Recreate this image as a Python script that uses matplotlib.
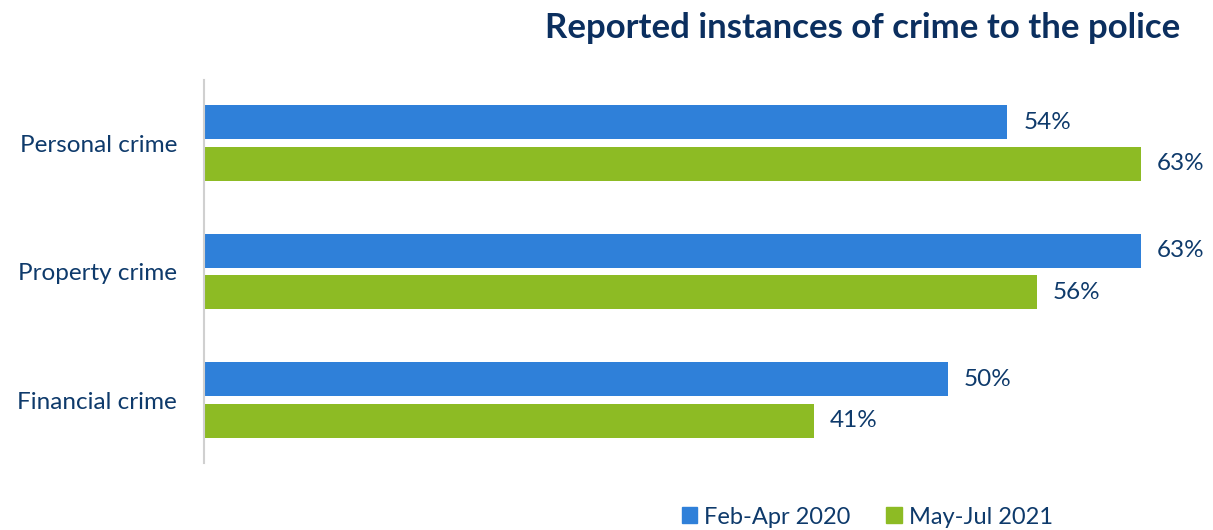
import numpy as np
import matplotlib
matplotlib.use("Agg")
import matplotlib.pyplot as plt
from matplotlib.patches import Patch

categories = ["Personal crime", "Property crime", "Financial crime"]
series_names = ["Feb-Apr 2020", "May-Jul 2021"]
feb_apr_2020 = [54, 63, 50]
may_jul_2021 = [63, 56, 41]

BLUE = "#2F80D9"
GREEN = "#8DBB24"
NAVY = "#0E3A6B"
TITLE = "#0B2F5F"

plt.rcParams["font.family"] = ["Lato", "DejaVu Sans"]

fig = plt.figure(figsize=(12.13, 5.30), dpi=100)
ax = fig.add_axes([0.1682, 0.1264, 0.813, 0.7226])

y = np.arange(len(categories))
h = 0.265
off = 0.161
b1 = ax.barh(y - off, feb_apr_2020, height=h, color=BLUE)
b2 = ax.barh(y + off, may_jul_2021, height=h, color=GREEN)

for bars, vals in ((b1, feb_apr_2020), (b2, may_jul_2021)):
    for rect, v in zip(bars, vals):
        ax.annotate(f"{v}%", (rect.get_width(), rect.get_y() + rect.get_height() / 2),
                    xytext=(11.5, 0), textcoords="offset points",
                    va="center", ha="left", fontsize=17.5, color=NAVY)

ax.set_xlim(0, 66.3)
ax.set_ylim(2.49, -0.49)
ax.set_yticks(y)
ax.set_yticklabels(categories, fontsize=17.5, color=NAVY)
ax.tick_params(axis="y", length=0, pad=19.5)
ax.set_xticks([])
for s in ("top", "right", "bottom"):
    ax.spines[s].set_visible(False)
ax.spines["left"].set_color("#D0D0D0")
ax.spines["left"].set_linewidth(1.5)

fig.text(0.711, 0.947, "Reported instances of crime to the police", ha="center", va="center",
         fontsize=25, fontweight="bold", color=TITLE)

handles = [Patch(color=BLUE, label=series_names[0]), Patch(color=GREEN, label=series_names[1])]
fig.legend(handles=handles, loc="center", bbox_to_anchor=(0.715, 0.0245), ncol=2, frameon=False,
           fontsize=17, labelcolor=NAVY, handlelength=0.65, handleheight=0.65,
           handletextpad=0.3, columnspacing=1.5)

fig.savefig("out.png", dpi=100)
